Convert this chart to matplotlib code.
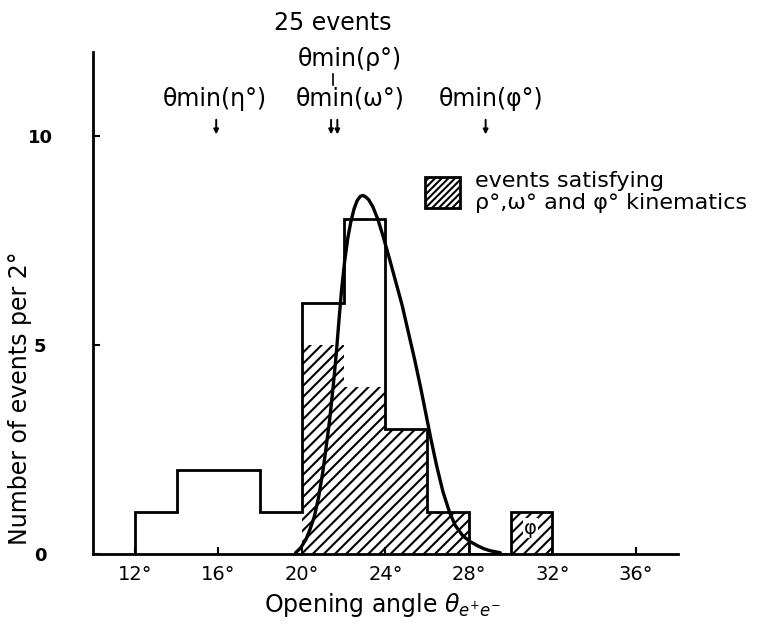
import matplotlib
matplotlib.use("Agg")
import matplotlib.pyplot as plt
from matplotlib.patches import Rectangle

# ---- data ----
bin_left = [12, 14, 16, 18, 20, 22, 24, 26, 28, 30]
bin_width = 2
total_counts = [1, 2, 2, 1, 6, 8, 3, 1, 0, 1]
hatched_counts = [0, 0, 0, 0, 5, 4, 3, 1, 0, 1]

curve_x = [19.7, 19.95, 20.2, 20.4, 20.6, 20.8, 21.0, 21.15, 21.33, 21.5,
           21.65, 21.78, 21.9, 22.05, 22.2, 22.35, 22.5, 22.65, 22.8, 22.92,
           23.05, 23.2, 23.4, 23.64, 23.9, 24.2, 24.5, 24.8, 25.1, 25.4,
           25.7, 26.0, 26.2, 26.45, 26.75, 27.07, 27.35, 27.7, 28.05, 28.4,
           28.7, 29.0, 29.5]
curve_y = [0.03, 0.15, 0.35, 0.6, 0.9, 1.35, 1.95, 2.5, 3.2, 4.0,
           4.8, 5.6, 6.3, 7.0, 7.55, 7.95, 8.25, 8.45, 8.55, 8.57,
           8.54, 8.47, 8.3, 8.0, 7.58, 7.05, 6.5, 5.95, 5.3, 4.65,
           3.95, 3.2, 2.7, 2.12, 1.5, 1.0, 0.68, 0.44, 0.3, 0.2,
           0.13, 0.08, 0.03]

xticks = [12, 16, 20, 24, 28, 32, 36]
xtick_labels = ["12°", "16°", "20°", "24°", "28°", "32°", "36°"]
yticks = [0, 5, 10]

thmin_labels = ["θmin(η°)", "θmin(ω°)", "θmin(φ°)"]
thmin_label_x = [15.83, 22.33, 29.08]
arrow_x = [15.9, 21.4, 21.7, 28.8]

plt.rcParams['font.family'] = ['DejaVu Sans']
plt.rcParams['hatch.linewidth'] = 1.5

fig = plt.figure(figsize=(7.59, 6.31), dpi=100)
ax = fig.add_axes([0.1225, 0.122, 0.7705, 0.7956])
ax.set_xlim(10, 38)
ax.set_ylim(0, 12)

edges = bin_left + [bin_left[-1] + bin_width]

# hatched part
ax.bar(bin_left, hatched_counts, width=bin_width, align='edge', fill=False,
       hatch='///', edgecolor='black', linewidth=0)
# outline of all events
ax.stairs(total_counts, edges, baseline=0, color='black', linewidth=2.0)
# fitted curve
ax.plot(curve_x, curve_y, color='black', linewidth=2.4,
        solid_capstyle='round', solid_joinstyle='round')

# phi label inside the last bar
ax.text(30.95, 0.62, "φ", ha='center', va='center', fontsize=14,
        bbox=dict(facecolor='white', edgecolor='none', pad=0.5))

# spines & ticks
for s in ['top', 'right']:
    ax.spines[s].set_visible(False)
for s in ['left', 'bottom']:
    ax.spines[s].set_linewidth(2.0)
ax.set_xticks(xticks)
ax.set_xticklabels(xtick_labels, fontsize=14)
ax.set_yticks(yticks)
ax.set_yticklabels([str(v) for v in yticks], fontsize=13, fontweight='bold')
ax.tick_params(axis='both', direction='in', length=5, width=1.5)
ax.tick_params(axis='x', pad=8)
ax.tick_params(axis='y', pad=38)
for lbl in ax.get_yticklabels():
    lbl.set_horizontalalignment('center')

# top annotations
ax.text(21.47, 12.7, "25 events", ha='center', va='center', fontsize=17,
        clip_on=False)
ax.text(22.3, 11.84, "θmin(ρ°)", ha='center', va='center', fontsize=17,
        clip_on=False)
for lab, lx in zip(thmin_labels, thmin_label_x):
    ax.text(lx, 10.88, lab, ha='center', va='center', fontsize=17, clip_on=False)
ax.plot([21.5, 21.5], [11.48, 11.2], color='black', linewidth=1.2, clip_on=False)
for axx in arrow_x:
    ax.annotate('', xy=(axx, 10.03), xytext=(axx, 10.38),
                arrowprops=dict(arrowstyle='-|>', color='black', lw=1.4,
                                mutation_scale=7, shrinkA=0, shrinkB=0),
                annotation_clip=False)

# legend (drawn manually)
ax.add_patch(Rectangle((25.88, 8.28), 1.67, 0.74, facecolor='white',
                       edgecolor='black', hatch='/////', linewidth=2.0,
                       clip_on=False))
ax.text(28.3, 8.65, "events satisfying\nρ°,ω° and φ° kinematics",
        ha='left', va='center', fontsize=16, linespacing=1.1, clip_on=False)

# axis labels
fig.text(383 / 759, 1 - 605 / 631, "Opening angle $\\theta_{e^{+}e^{-}}$",
         ha='center', va='center', fontsize=17)
fig.text(20 / 759, 1 - 398 / 631, "Number of events per 2°", rotation=90,
         ha='center', va='center', fontsize=17)

fig.savefig("out.png", dpi=100)
